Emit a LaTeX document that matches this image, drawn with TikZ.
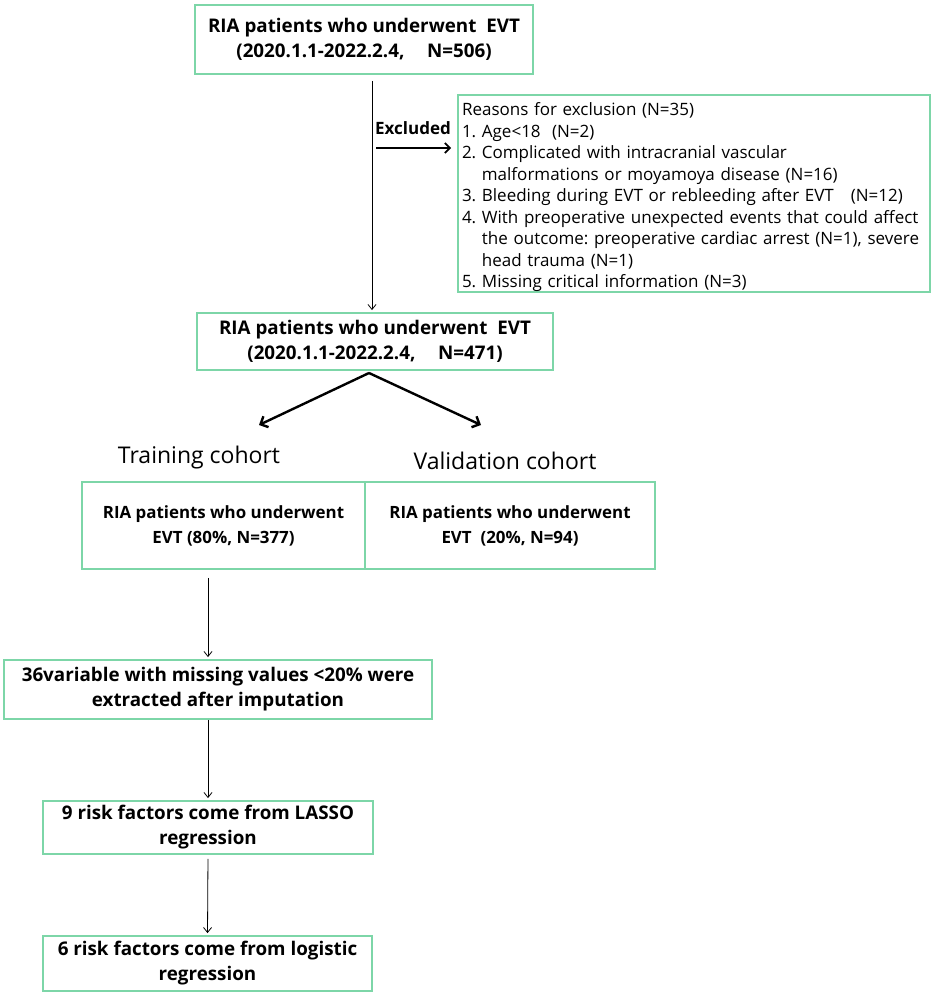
\documentclass[tikz,border=0pt]{standalone}
\usepackage{fontspec}
\setmainfont{Open Sans}
\usetikzlibrary{arrows.meta,calc}
\definecolor{mint}{RGB}{125,214,168}
\frenchspacing

\begin{document}
\begin{tikzpicture}[x=1pt,y=-1pt,
    >={Straight Barb[length=5pt,width=8pt]},
    box/.style={draw=mint,line width=1.8pt,align=center,inner sep=0pt,
      font=\fontsize{18.8}{25}\selectfont\bfseries},
    note/.style={draw=mint,line width=1.8pt,align=left,inner xsep=4pt,
      inner ysep=0pt,font=\fontsize{17}{21.5}\selectfont},
    link/.style={->,line width=0.8pt,shorten >=2pt},
    split/.style={->,line width=2.4pt,>={Straight Barb[length=6pt,width=12pt]}}]
  \useasboundingbox (0,0) rectangle (935,995);
  % top part
  \node[box,minimum width=338pt,minimum height=69pt] (top) at (364,39.5)
    {RIA patients who underwent\ \ EVT\\(2020.1.1-2022.2.4,\hspace{1.2em}N=506)};
  \node[box,minimum width=356pt,minimum height=57pt] (mid) at (375,341.5)
    {RIA patients who underwent\ \ EVT\\(2020.1.1-2022.2.4,\hspace{1.2em}N=471)};
  \node[note,text width=464pt,minimum height=197pt] (ex) at (694,193.5)
    {\rule{0pt}{20.5pt}Reasons for exclusion (N=35)\\
     1. Age<18\ \ (N=2)\\
     2. Complicated with intracranial vascular\\
     \phantom{2. }malformations or moyamoya disease (N=16)\\
     3. Bleeding during EVT or rebleeding after EVT\ \ \ (N=12)\\
     4. With preoperative unexpected events that could affect\\
     \phantom{4. }the outcome: preoperative cardiac arrest (N=1), severe\\
     \phantom{4. }head trauma (N=1)\\
     5. Missing critical information (N=3)};
  \draw[link,shorten <=6pt] ([xshift=8pt]top.south) -- ([xshift=-3pt]mid.north);
  \node[font=\fontsize{17}{20}\selectfont\bfseries] (exlab) at (413,128) {Excluded};
  \coordinate (exfrom) at (376,148);
  \draw[->,line width=1.8pt,shorten >=6pt,>={Straight Barb[length=5pt,width=10pt]}]
    (exfrom) -- (exfrom -| ex.west);
  % split into cohorts
  \coordinate (fork) at (369,373);
  \coordinate (ltip) at (259,425);
  \coordinate (rtip) at (481,425);
  \draw[split] (fork) -- (ltip);
  \draw[split] (fork) -- (rtip);
  \node[font=\fontsize{23}{28}\selectfont] (trainlab) at (199,458) {Training cohort};
  \node[font=\fontsize{23}{28}\selectfont] (vallab) at (505,461) {Validation cohort};
  \node[box,font=\fontsize{16.9}{25}\selectfont\bfseries,
    minimum width=283pt,minimum height=87pt] (train) at (223.5,525.5)
    {RIA patients who underwent\\EVT (80\%, N=377)};
  \node[box,font=\fontsize{16.9}{25}\selectfont\bfseries,
    minimum width=290pt,minimum height=87pt] (val) at (510,525.5)
    {RIA patients who underwent\\EVT\ \ (20\%, N=94)};
  % model building
  \node[box,minimum width=428pt,minimum height=59pt] (impute) at (218,689.5)
    {36variable with missing values <20\% were\\extracted after imputation};
  \node[box,minimum width=330pt,minimum height=53pt] (lasso) at (208,827.5)
    {9 risk factors come from LASSO\\regression};
  \node[box,minimum width=329pt,minimum height=55pt] (logit) at (207.5,963.5)
    {6 risk factors come from logistic\\regression};
  \draw[link,shorten <=8pt] (train.south -| lasso.north) -- (impute.north -| lasso.north);
  \draw[link] (impute.south -| lasso.north) -- (lasso.north);
  \draw[link,shorten <=4pt] (lasso.south) -- (logit.north);
\end{tikzpicture}
\end{document}
